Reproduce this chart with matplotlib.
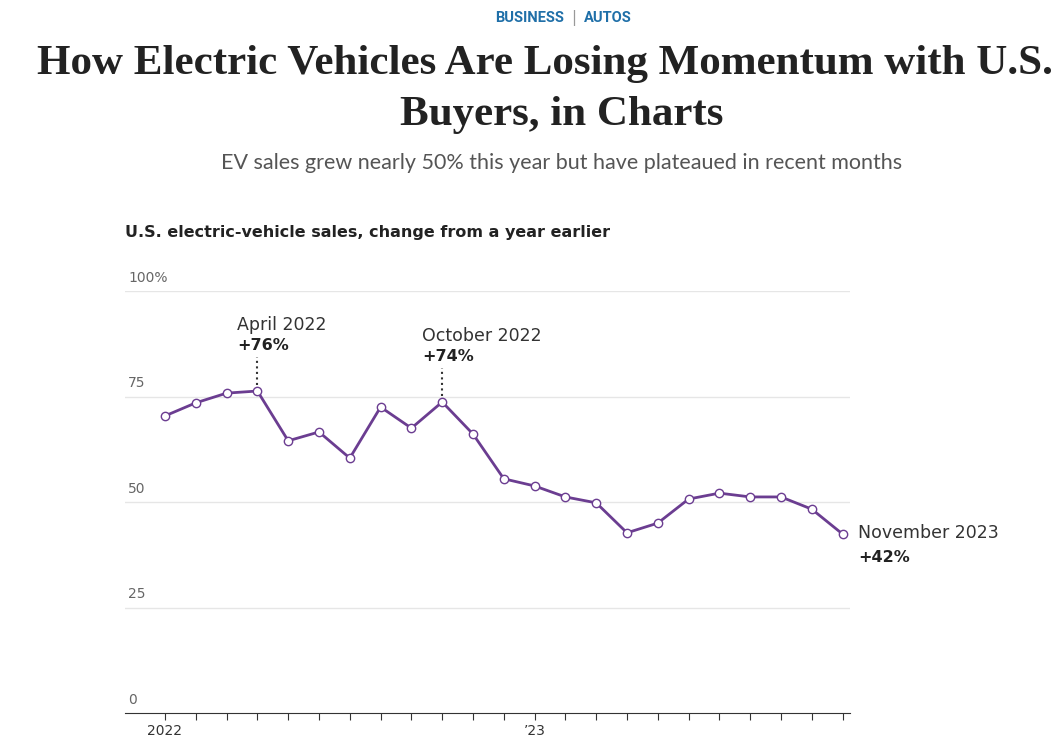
import matplotlib
matplotlib.use("Agg")
import matplotlib.pyplot as plt

months = list(range(23))  # Jan 2022 .. Nov 2023
values = [70.4, 73.5, 75.8, 76.3, 64.5, 66.6, 60.4, 72.5, 67.5, 73.7, 66.1, 55.5,
          53.8, 51.2, 49.8, 42.7, 45.0, 50.7, 52.1, 51.2, 51.2, 48.3, 42.4]
yticks = [0, 25, 50, 75, 100]
ytick_labels = ["0", "25", "50", "75", "100%"]
xtick_labels = {0: "2022", 12: "\u201923"}

fig = plt.figure(figsize=(10.52, 7.42), dpi=100)
W, H = 1052, 742
ax = fig.add_axes([125/W, 1-713/H, 725/W, 422/H])
x0 = -(165-125)/30.8
ax.set_xlim(x0, x0 + 725/30.8)
ax.set_ylim(0, 100)

for y, lab in zip(yticks, ytick_labels):
    if y > 0:
        ax.axhline(y, color="#e6e6e6", lw=1, zorder=0)
    ax.text(x0 + 0.1, y + 1.5, lab, fontsize=10, color="#666666", va="bottom", ha="left")

ax.plot(months, values, color="#6b3d91", lw=2, zorder=2)
ax.scatter(months, values, s=36, facecolor="white", edgecolor="#6b3d91", lw=1, zorder=3)

for spine in ["top", "right", "left"]:
    ax.spines[spine].set_visible(False)
ax.spines["bottom"].set_color("#333333")
ax.set_yticks([])
ax.set_xticks(months)
ax.set_xticklabels([xtick_labels.get(m, "") for m in months], fontsize=10, color="#333333")
ax.tick_params(axis="x", length=5, color="#333333", pad=3)

# annotations
for i, name, pct in [(3, "April 2022", "+76%"), (9, "October 2022", "+74%")]:
    ax.plot([i, i], [values[i] + 1.5, values[i] + 8], ls=":", color="#333333", lw=1.5)
    ax.text(i - 0.65, values[i] + 13.5, name, fontsize=12.5, color="#333333", ha="left", va="bottom")
    ax.text(i - 0.65, values[i] + 9, pct, fontsize=11.5, color="#222222", ha="left",
            va="bottom", fontweight="bold")
ax.text(22.5, values[22] + 0.3, "November 2023", fontsize=12.5, color="#333333", ha="left",
        va="center", clip_on=False)
ax.text(22.5, values[22] - 5.6, "+42%", fontsize=11.5, color="#222222", ha="left",
        va="center", fontweight="bold", clip_on=False)

fig.text(125/W, 1-233/H, "U.S. electric-vehicle sales, change from a year earlier",
         fontsize=11.5, fontweight="bold", color="#222222", va="center", ha="left")
fig.text(564/W, 1-18/H, "BUSINESS", fontsize=10.5, fontweight="bold", color="#1f6fa8",
         ha="right", va="center", family="Roboto")
fig.text(574/W, 1-18/H, "|", fontsize=11, color="#999999", ha="center", va="center")
fig.text(584/W, 1-18/H, "AUTOS", fontsize=10.5, fontweight="bold", color="#1f6fa8",
         ha="left", va="center", family="Roboto")
fig.text(545/W, 1-64/H, "How Electric Vehicles Are Losing Momentum with U.S.",
         fontsize=31, fontweight="bold", family="Liberation Serif", color="#222222",
         ha="center", va="center")
fig.text(562/W, 1-115/H, "Buyers, in Charts", fontsize=31, fontweight="bold",
         family="Liberation Serif", color="#222222", ha="center", va="center")
fig.text(562/W, 1-163/H, "EV sales grew nearly 50% this year but have plateaued in recent months",
         fontsize=15.5, color="#555555", ha="center", va="center", family="Lato")

fig.savefig("out.png", dpi=100)
